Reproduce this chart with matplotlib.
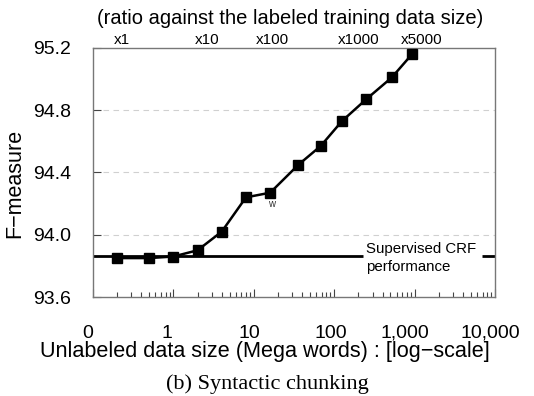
import matplotlib
matplotlib.use("Agg")
import matplotlib.pyplot as plt
import matplotlib.transforms as mtrans
import numpy as np

# data
data_size = [0.2, 0.5, 1, 2, 4, 8, 16, 36, 68, 125, 250, 520, 930]
fmeasure = [93.85, 93.85, 93.86, 93.90, 94.02, 94.24, 94.27, 94.45, 94.57, 94.73, 94.87, 95.01, 95.16]
baseline = 93.865
x_ticks = [0.1, 1, 10, 100, 1000, 10000]
x_labels = ["0", "1", "10", "100", "1,000", "10,000"]
y_ticks = [93.6, 94.0, 94.4, 94.8, 95.2]
ratio_pos = [0.23, 2.6, 17, 200, 1230]
ratio_labels = ["x1", "x10", "x100", "x1000", "x5000"]

plt.rcParams['font.family'] = ['Liberation Sans', 'DejaVu Sans']

W, H = 534, 396
fig = plt.figure(figsize=(W / 100, H / 100), dpi=100)
ax = fig.add_axes([0.174, 0.25, 0.753, 0.629])
ax.set_xscale('log')
ax.set_xlim(0.1, 10000)
ax.set_ylim(93.6, 95.2)

for v in [94.0, 94.4, 94.8]:
    ax.axhline(v, color='#d0d0d0', lw=0.8, ls=(0, (5, 4)), zorder=0)

# baseline segments
ax.plot([0.1, 231], [baseline, baseline], color='black', lw=2, solid_capstyle='butt')
ax.plot([6970, 10000], [baseline, baseline], color='black', lw=2, solid_capstyle='butt')
ax.text(250, baseline + 0.045, "Supervised CRF", fontsize=10.8, va='center', ha='left')
ax.text(250, baseline - 0.075, "performance", fontsize=10.8, va='center', ha='left')

ax.plot(data_size, fmeasure, color='black', lw=1.8, marker='s', markersize=7.5, zorder=3)
ax.text(16.5, 94.2, "w", fontsize=7, ha='center', va='center', color='#333333')

ax.set_xticks(x_ticks)
ax.set_xticklabels(x_labels, fontsize=14)
ax.set_yticks(y_ticks)
ax.set_yticklabels(["%.1f" % v for v in y_ticks], fontsize=14)
ax.tick_params(axis='x', which='major', direction='in', length=6, width=0.8, pad=20, color='#444444')
ax.tick_params(axis='x', which='minor', direction='in', length=3.5, width=0.8, color='#444444', labelbottom=False)
ax.tick_params(axis='y', direction='in', length=6, width=0.8, pad=15.5, color='#444444')
for s in ax.spines.values():
    s.set_color('#777777')
    s.set_linewidth(1.0)

# shift x tick labels slightly left like reference
offsets = [-5, -6, -4, -3, -10, -5]
for lab, dx in zip(ax.get_xticklabels(), offsets):
    lab.set_transform(lab.get_transform() + mtrans.ScaledTranslation(dx / 100, 0, fig.dpi_scale_trans))

fig.text(15 / W, 1 - 183 / H, "F\u2212measure", fontsize=15.5, rotation=90, ha='center', va='center')
fig.text(265 / W, 1 - 351 / H, "Unlabeled data size (Mega words) : [log\u2212scale]", fontsize=15.6,
         ha='center', va='center')

ax2 = ax.twiny()
ax2.set_xscale('log')
ax2.set_xlim(0.1, 10000)
ax2.set_xticks(ratio_pos)
ax2.set_xticklabels(ratio_labels, fontsize=11)
ax2.xaxis.set_minor_locator(matplotlib.ticker.NullLocator())
ax2.tick_params(axis='x', length=0, pad=0.5)
for s in ax2.spines.values():
    s.set_visible(False)

fig.text(290 / W, 1 - 19 / H, "(ratio against the labeled training data size)", fontsize=14.5,
         ha='center', va='center')
fig.text(0.5, 1.5 / H, "(b) Syntactic chunking", fontsize=16, ha='center', va='bottom',
         family='Liberation Serif')

fig.savefig("out.png", dpi=100)
